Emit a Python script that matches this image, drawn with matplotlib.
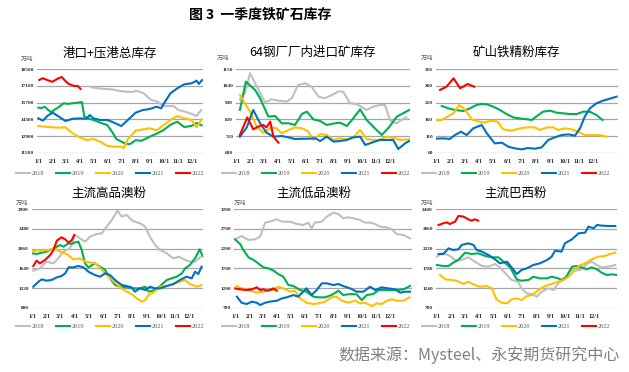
import matplotlib
matplotlib.use("Agg")
import matplotlib.pyplot as plt
from matplotlib.lines import Line2D

plt.rcParams['font.family'] = ['Noto Sans CJK SC', 'DejaVu Sans']

W, H = 629, 372

YEARS = ["2018", "2019", "2020", "2021", "2022"]
COLORS = ["#BFBFBF", "#00B050", "#FFC000", "#0070C0", "#FF0000"]
MONTH_DAYS = [0, 31, 59, 90, 120, 151, 181, 212, 243, 273, 304, 334]
MONTH_LABELS = ["1/1", "2/1", "3/1", "4/1", "5/1", "6/1", "7/1", "8/1", "9/1", "10/1", "11/1", "12/1"]

TITLE = "图 3  一季度铁矿石库存"
SOURCE = "数据来源：Mysteel、永安期货研究中心"
UNIT = "万吨"

# ---------------- Panel 1: 港口+压港总库存 ----------------
P1_TITLE = "港口+压港总库存"
P1_TICKS = [11500, 12900, 14300, 15700, 17100, 18500]
P1_2018_X = [115, 130, 145, 160, 175, 190, 205, 215, 230, 245, 260, 270, 285, 295, 305, 320, 335, 345, 355]
P1_2018_Y = [17000, 16900, 16850, 16820, 16700, 16620, 16600, 16700, 16480, 15950, 15780, 15450, 15400, 15420, 15084, 14944, 14748, 14580, 15084]
P1_2019_X = [0, 7, 14, 21, 28, 35, 45, 55, 65, 75, 85, 95, 100, 110, 120, 130, 140, 150, 160, 170, 180, 190, 200, 212, 225, 243, 258, 273, 288, 303, 318, 334, 345, 356]
P1_2019_Y = [15280, 15250, 15350, 15100, 14900, 15100, 15350, 15650, 15600, 15650, 15700, 15750, 14550, 14350, 14250, 14100, 13950, 13820, 13300, 12650, 12450, 12250, 12230, 12550, 12500, 12850, 13100, 13400, 13850, 14100, 13650, 13750, 14000, 13800]
P1_2020_X = [0, 15, 31, 45, 59, 75, 90, 105, 120, 135, 151, 165, 181, 186, 195, 212, 228, 243, 258, 273, 288, 303, 318, 334, 345, 356]
P1_2020_Y = [13740, 13680, 13630, 13600, 13630, 13124, 12788, 12564, 12650, 12424, 12060, 12004, 12004, 11864, 12620, 13348, 13460, 13544, 13380, 13820, 14244, 14580, 14384, 14244, 13630, 14300]
P1_2021_X = [0, 10, 20, 31, 45, 59, 75, 90, 105, 112, 120, 135, 151, 165, 181, 195, 212, 228, 243, 258, 268, 273, 288, 303, 318, 334, 345, 350, 357]
P1_2021_Y = [14384, 14190, 14600, 14860, 14524, 14160, 14350, 14380, 14350, 14664, 14384, 14244, 14244, 14020, 13740, 14244, 14860, 15084, 15168, 15364, 15224, 15588, 16484, 16904, 17240, 17324, 17548, 17268, 17604]
P1_2022_X = [2, 9, 16, 23, 30, 37, 44, 51, 58, 65, 72, 79, 86, 92]
P1_2022_Y = [17600, 17750, 17650, 17550, 17450, 17600, 17750, 17850, 17550, 17300, 17180, 17100, 17100, 16850]

# ---------------- Panel 2: 64钢厂厂内进口矿库存 ----------------
P2_TITLE = "64钢厂厂内进口矿库存"
P2_TICKS = [600, 710, 820, 930, 1040, 1150]
P2_2018_X = [7, 18, 29, 44, 62, 76, 91, 109, 120, 134, 149, 163, 178, 192, 207, 221, 232, 247, 261, 283, 298, 312, 323, 334, 341, 349, 359, 370]
P2_2018_Y = [952, 992, 1124, 1036, 930, 952, 943, 937, 959, 1047, 1058, 1036, 970, 959, 980, 1003, 1003, 926, 921, 882, 904, 915, 915, 816, 800, 794, 816, 833]
P2_2019_X = [7, 20, 40, 51, 69, 84, 98, 113, 127, 142, 153, 167, 182, 196, 214, 225, 240, 254, 269, 283, 301, 316, 330, 349, 376]
P2_2019_Y = [882, 1069, 1014, 959, 838, 842, 794, 794, 783, 855, 871, 820, 809, 783, 794, 798, 776, 827, 886, 816, 761, 717, 761, 838, 882]
P2_2020_X = [7, 18, 29, 44, 58, 76, 87, 98, 113, 127, 142, 156, 167, 182, 196, 211, 225, 240, 254, 269, 283, 298, 312, 327, 341, 356, 376]
P2_2020_Y = [981, 926, 871, 772, 732, 767, 761, 728, 750, 767, 761, 739, 684, 723, 717, 684, 695, 688, 701, 750, 690, 684, 684, 706, 699, 684, 688]
P2_2021_X = [7, 22, 36, 51, 65, 80, 98, 113, 127, 142, 156, 171, 182, 196, 211, 225, 240, 254, 269, 280, 298, 312, 327, 341, 352, 367, 376]
P2_2021_Y = [706, 767, 882, 794, 732, 706, 710, 701, 690, 692, 692, 695, 677, 706, 673, 677, 684, 701, 706, 651, 670, 684, 684, 684, 624, 662, 677]
P2_2022_X = [7, 23, 36, 47, 58, 65, 73, 80, 91]
P2_2022_Y = [717, 833, 754, 772, 783, 767, 805, 706, 666]

# ---------------- Panel 3: 矿山铁精粉库存 ----------------
P3_TITLE = "矿山铁精粉库存"
P3_TICKS = [60, 110, 160, 210, 260, 310]
P3_2018_X = []
P3_2018_Y = []
P3_2019_X = [11, 25, 39, 57, 71, 85, 96, 107, 121, 135, 149, 163, 180, 195, 203, 217, 227, 242, 256, 270, 284, 299, 313, 327, 341, 354]
P3_2019_Y = [200, 193, 188, 185, 193, 203, 206, 205, 198, 188, 176, 166, 162, 160, 158, 173, 183, 186, 180, 178, 176, 176, 183, 183, 173, 158]
P3_2020_X = [0, 11, 25, 36, 48, 60, 75, 85, 100, 117, 130, 142, 160, 178, 195, 210, 220, 235, 249, 259, 274, 288, 302, 316, 330, 348, 362]
P3_2020_Y = [158, 158, 170, 178, 203, 190, 160, 155, 150, 156, 153, 130, 126, 133, 136, 136, 128, 136, 136, 128, 133, 130, 123, 113, 113, 113, 108]
P3_2021_X = [0, 14, 28, 39, 52, 64, 78, 96, 107, 124, 139, 153, 167, 181, 195, 210, 224, 238, 252, 267, 281, 295, 306, 316, 327, 341, 355, 370, 384]
P3_2021_Y = [102, 103, 101, 113, 123, 113, 133, 143, 118, 88, 90, 78, 73, 70, 74, 72, 76, 98, 106, 113, 115, 111, 133, 168, 193, 208, 216, 222, 228]
P3_2022_X = [7, 21, 36, 50, 66, 80]
P3_2022_Y = [248, 258, 283, 253, 266, 258]

# ---------------- Panel 4: 主流高品澳粉 ----------------
P4_TITLE = "主流高品澳粉"
P4_TICKS = [800, 1220, 1640, 2060, 2480, 2900]
P4_2018_X = [2, 16, 30, 45, 55, 66, 80, 91, 98, 112, 123, 137, 148, 158, 169, 181, 190, 201, 211, 218, 229, 240, 250, 261, 272, 286, 300, 311, 325, 335, 346, 357]
P4_2018_Y = [1590, 1640, 1782, 1747, 1853, 1996, 2067, 2352, 2302, 2209, 2316, 2373, 2387, 2530, 2672, 2872, 2743, 2779, 2672, 2637, 2601, 2530, 2316, 2138, 2031, 1960, 1853, 1889, 1818, 1782, 1782, 1875]
P4_2019_X = [0, 9, 20, 30, 45, 59, 66, 77, 84, 89, 98, 105, 112, 119, 133, 144, 155, 165, 176, 187, 201, 215, 229, 240, 247, 257, 272, 286, 296, 307, 318, 325, 335, 346, 356, 362]
P4_2019_Y = [1960, 1946, 1975, 1996, 2067, 2138, 2103, 2174, 2160, 2188, 2209, 2031, 1747, 1661, 1747, 1676, 1604, 1426, 1284, 1248, 1234, 1213, 1213, 1248, 1142, 1163, 1263, 1391, 1426, 1462, 1533, 1640, 1711, 1853, 2046, 1903]
P4_2020_X = [0, 9, 20, 34, 48, 59, 73, 87, 101, 112, 126, 137, 148, 162, 176, 190, 201, 211, 222, 233, 240, 247, 257, 272, 286, 300, 314, 325, 335, 350, 360]
P4_2020_Y = [1996, 2031, 2017, 2031, 2067, 1996, 1946, 1832, 1853, 1782, 1761, 1732, 1604, 1462, 1334, 1213, 1142, 1092, 999, 928, 964, 1071, 1121, 1248, 1263, 1305, 1355, 1391, 1305, 1248, 1284]
P4_2021_X = [2, 13, 20, 30, 41, 52, 62, 70, 77, 87, 98, 109, 119, 133, 144, 155, 165, 176, 190, 201, 211, 218, 229, 240, 250, 261, 272, 286, 300, 314, 328, 339, 346, 353, 360]
P4_2021_Y = [1248, 1355, 1405, 1377, 1391, 1448, 1476, 1533, 1661, 1661, 1690, 1661, 1569, 1498, 1462, 1533, 1498, 1391, 1284, 1263, 1234, 1142, 1213, 1177, 1248, 1213, 1213, 1263, 1305, 1391, 1462, 1426, 1569, 1519, 1676]
P4_2022_X = [2, 9, 16, 27, 38, 45, 52, 62, 70, 77, 84, 89]
P4_2022_Y = [1690, 1804, 1747, 1818, 1925, 2031, 2231, 2302, 2259, 2188, 2245, 2352]

# ---------------- Panel 5: 主流低品澳粉 ----------------
P5_TITLE = "主流低品澳粉"
P5_TICKS = [700, 1200, 1700, 2200, 2700, 3200]
P5_2018_X = [0, 14, 29, 43, 54, 65, 75, 90, 101, 119, 133, 147, 158, 165, 172, 187, 198, 212, 223, 233, 244, 255, 269, 280, 291, 302, 312, 327, 338, 348, 363, 377]
P5_2018_Y = [2437, 2522, 2420, 2437, 2505, 2861, 2886, 2946, 2886, 2886, 2827, 2802, 2861, 2717, 2861, 2886, 3014, 3115, 3081, 2971, 2996, 2971, 2929, 2861, 2861, 2827, 2759, 2742, 2691, 2573, 2547, 2463]
P5_2019_X = [0, 11, 18, 29, 40, 50, 61, 72, 83, 93, 104, 115, 126, 140, 154, 169, 180, 194, 208, 223, 233, 248, 262, 273, 284, 298, 309, 320, 334, 348, 363, 377]
P5_2019_Y = [2437, 2319, 2166, 1980, 1912, 1827, 1725, 1700, 1641, 1556, 1488, 1276, 1251, 1149, 1107, 980, 963, 963, 1022, 1132, 1022, 1047, 1039, 895, 1022, 1047, 1149, 1149, 1149, 1149, 1166, 1251]
P5_2020_X = [4, 14, 29, 47, 61, 72, 83, 93, 104, 119, 129, 140, 154, 169, 180, 194, 208, 219, 230, 244, 259, 269, 280, 295, 305, 316, 327, 338, 348, 363, 376]
P5_2020_Y = [1251, 1191, 1149, 1081, 1107, 1149, 1149, 1234, 1191, 1107, 1132, 937, 827, 793, 810, 853, 963, 980, 878, 827, 878, 810, 827, 742, 810, 793, 878, 912, 878, 878, 963]
P5_2021_X = [4, 14, 25, 36, 47, 54, 65, 75, 90, 101, 111, 126, 136, 147, 154, 165, 176, 187, 198, 212, 223, 233, 248, 262, 277, 291, 302, 316, 330, 345, 356, 366, 377]
P5_2021_Y = [980, 827, 793, 853, 827, 768, 827, 853, 878, 937, 963, 1022, 980, 1107, 1191, 1022, 1149, 1319, 1319, 1276, 1302, 1251, 1191, 1107, 1107, 1234, 1149, 1217, 1191, 1166, 1081, 1107, 1107]
P5_2022_X = [0, 11, 25, 36, 47, 54, 61, 68, 75, 83, 90]
P5_2022_Y = [1191, 1166, 1149, 1166, 1217, 1149, 1166, 1132, 1149, 1191, 1132]

# ---------------- Panel 6: 主流巴西粉 ----------------
P6_TITLE = "主流巴西粉"
P6_TICKS = [700, 1240, 1780, 2320, 2860, 3400]
P6_2018_X = [0, 11, 25, 39, 53, 67, 81, 96, 110, 124, 134, 149, 159, 173, 180, 191, 202, 212, 223, 237, 248, 258, 272, 283, 294, 308, 318, 329, 340, 350, 364, 379]
P6_2018_Y = [2100, 2192, 2146, 2009, 2009, 2082, 1963, 1844, 1826, 1899, 1807, 1597, 1460, 1414, 1231, 1093, 1075, 1002, 1139, 1231, 1185, 1368, 1505, 1734, 1716, 1753, 1899, 1963, 1872, 1807, 1826, 1872]
P6_2019_X = [0, 14, 25, 35, 46, 60, 74, 88, 103, 117, 131, 142, 156, 170, 180, 195, 205, 219, 234, 244, 258, 265, 276, 287, 297, 308, 318, 329, 340, 350, 361, 372, 382]
P6_2019_Y = [1872, 1844, 1844, 1936, 2009, 2210, 2174, 2192, 2119, 2082, 2082, 1963, 1807, 1478, 1441, 1460, 1551, 1505, 1505, 1551, 1505, 1460, 1551, 1826, 1844, 1807, 1753, 1807, 1753, 1661, 1597, 1615, 1597]
P6_2020_X = [7, 18, 32, 42, 57, 67, 81, 92, 106, 117, 127, 138, 149, 159, 170, 180, 191, 202, 216, 230, 244, 258, 269, 280, 290, 301, 315, 329, 343, 357, 368, 379]
P6_2020_Y = [1597, 1478, 1460, 1441, 1350, 1414, 1322, 1277, 1295, 1231, 929, 837, 819, 929, 956, 910, 1020, 1048, 1185, 1295, 1350, 1414, 1460, 1551, 1688, 1844, 1917, 2027, 2100, 2119, 2174, 2210]
P6_2021_X = [4, 14, 25, 35, 46, 53, 67, 78, 85, 96, 110, 124, 134, 149, 159, 170, 180, 191, 205, 219, 234, 244, 251, 265, 272, 287, 301, 315, 322, 333, 340, 350, 364, 379]
P6_2021_Y = [2174, 2174, 2329, 2283, 2302, 2421, 2466, 2421, 2283, 2238, 2146, 2027, 1917, 1963, 1807, 1624, 1734, 1780, 1872, 1917, 2009, 2100, 2265, 2238, 2466, 2576, 2741, 2759, 2924, 2878, 2970, 2952, 2942, 2942]
P6_2022_X = [4, 14, 21, 28, 39, 46, 57, 67, 74, 81, 88]
P6_2022_Y = [2970, 3016, 3043, 2997, 3062, 3217, 3199, 3125, 3089, 3125, 3089]

PANELS = [
    dict(title=P1_TITLE, ticks=P1_TICKS,
         series=[(P1_2018_X, P1_2018_Y), (P1_2019_X, P1_2019_Y), (P1_2020_X, P1_2020_Y), (P1_2021_X, P1_2021_Y), (P1_2022_X, P1_2022_Y)],
         box=(37, 203, 69.3, 152.7), xlim=(-3, 359), title_xy=(110, 53), unit_xy=(27, 59), legend_xy=(110, 173)),
    dict(title=P2_TITLE, ticks=P2_TICKS,
         series=[(P2_2018_X, P2_2018_Y), (P2_2019_X, P2_2019_Y), (P2_2020_X, P2_2020_Y), (P2_2021_X, P2_2021_Y), (P2_2022_X, P2_2022_Y)],
         box=(236, 410, 69.3, 152.7), xlim=(-1.5, 377.6), title_xy=(313, 52), unit_xy=(223, 58), legend_xy=(316, 173)),
    dict(title=P3_TITLE, ticks=P3_TICKS,
         series=[(P3_2018_X, P3_2018_Y), (P3_2019_X, P3_2019_Y), (P3_2020_X, P3_2020_Y), (P3_2021_X, P3_2021_Y), (P3_2022_X, P3_2022_Y)],
         box=(435.7, 618, 69.3, 152.7), xlim=(-2.1, 387), title_xy=(516, 52), unit_xy=(427, 58), legend_xy=(516, 173)),
    dict(title=P4_TITLE, ticks=P4_TICKS,
         series=[(P4_2018_X, P4_2018_Y), (P4_2019_X, P4_2019_Y), (P4_2020_X, P4_2020_Y), (P4_2021_X, P4_2021_Y), (P4_2022_X, P4_2022_Y)],
         box=(31.7, 203, 209.3, 307.7), xlim=(-1.4, 363), title_xy=(109, 193), unit_xy=(22, 203), legend_xy=(110, 326)),
    dict(title=P5_TITLE, ticks=P5_TICKS,
         series=[(P5_2018_X, P5_2018_Y), (P5_2019_X, P5_2019_Y), (P5_2020_X, P5_2020_Y), (P5_2021_X, P5_2021_Y), (P5_2022_X, P5_2022_Y)],
         box=(234, 411.7, 209.3, 307.7), xlim=(-2.2, 380.7), title_xy=(314, 193), unit_xy=(240, 203), legend_xy=(316, 326)),
    dict(title=P6_TITLE, ticks=P6_TICKS,
         series=[(P6_2018_X, P6_2018_Y), (P6_2019_X, P6_2019_Y), (P6_2020_X, P6_2020_Y), (P6_2021_X, P6_2021_Y), (P6_2022_X, P6_2022_Y)],
         box=(435.7, 616.7, 209.3, 307.7), xlim=(-2.1, 382), title_xy=(516, 193), unit_xy=(427, 203), legend_xy=(516, 326)),
]

fig = plt.figure(figsize=(W / 100, H / 100), dpi=100)
fig.patch.set_facecolor("white")

fig.text(260 / W, 1 - 15 / H, TITLE, ha="center", va="center", fontsize=10, fontweight="bold", color="#000000")

SERIF = ["Liberation Serif", "DejaVu Serif"]

for p in PANELS:
    l, r, t, b = p["box"]
    ax = fig.add_axes([l / W, 1 - b / H, (r - l) / W, (b - t) / H])
    for (xs, ys), c in zip(p["series"], COLORS):
        if xs:
            ax.plot(xs, ys, color=c, lw=1.5, solid_joinstyle="round", zorder=3)
    ticks = p["ticks"]
    ax.set_ylim(ticks[0], ticks[-1])
    ax.set_yticks(ticks)
    ax.set_yticklabels([str(v) for v in ticks], fontsize=3.8, fontweight="bold", family=SERIF, color="#262626")
    ax.set_xlim(*p["xlim"])
    ax.set_xticks(MONTH_DAYS)
    ax.set_xticklabels(MONTH_LABELS, fontsize=4.5, fontweight="bold", family=SERIF, color="#262626")
    ax.tick_params(length=0, pad=2)
    ax.tick_params(axis="x", pad=4.5)
    ax.grid(axis="y", color="#A6A6A6", lw=0.9)
    ax.set_axisbelow(True)
    for s in ax.spines.values():
        s.set_visible(False)
    ax.set_facecolor("none")

    fig.text(p["title_xy"][0] / W, 1 - p["title_xy"][1] / H, p["title"], ha="center", va="center",
             fontsize=9, color="#000000")
    fig.text(p["unit_xy"][0] / W, 1 - p["unit_xy"][1] / H, UNIT, ha="center", va="center",
             fontsize=4.5, color="#595959")

    handles = [Line2D([], [], color=c, lw=1.5) for c in COLORS]
    lx, ly = p["legend_xy"]
    leg = fig.legend(handles, YEARS, loc="center", bbox_to_anchor=(lx / W, 1 - ly / H),
                     ncol=5, frameon=False, handlelength=2.2, handletextpad=0.3, columnspacing=1.9,
                     borderpad=0.1, borderaxespad=0, prop={"family": SERIF, "size": 4.5})
    for txt in leg.get_texts():
        txt.set_color("#595959")

fig.text(620 / W, 1 - 355 / H, SOURCE, ha="right", va="center", fontsize=11.5, color="#808080")

fig.savefig("out.png", dpi=100, facecolor="white")
